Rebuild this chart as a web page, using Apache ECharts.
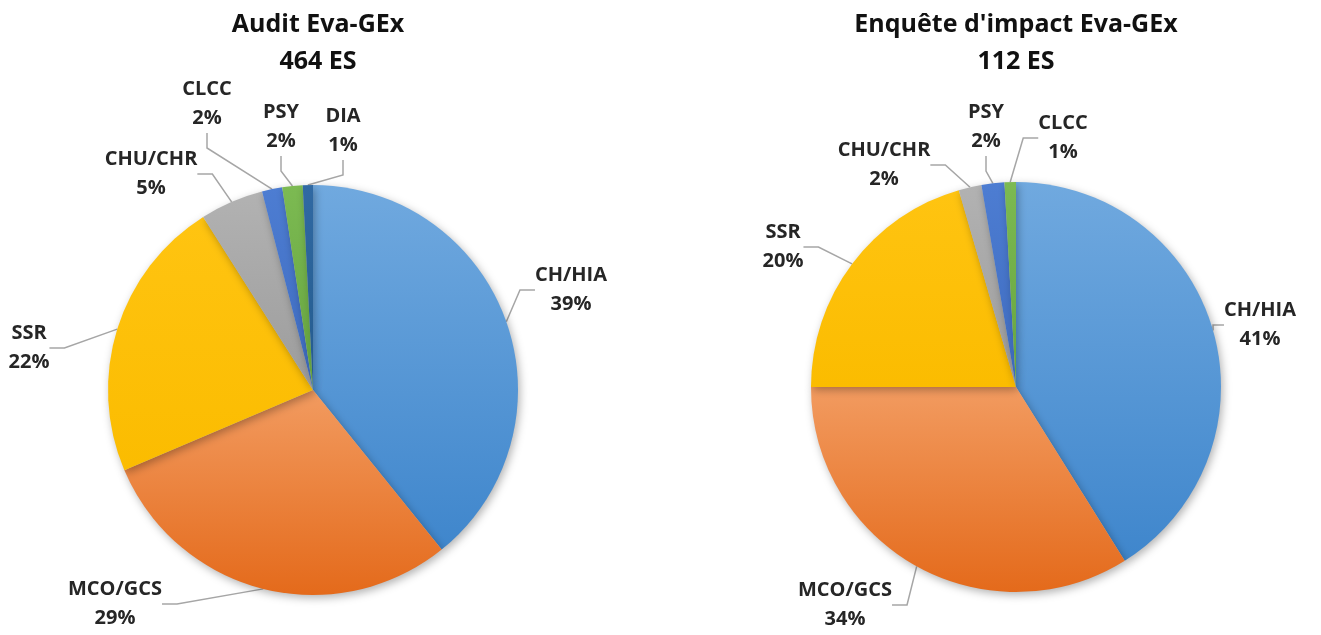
<!DOCTYPE html>
<html>
<head>
    <meta charset="utf-8">
    <title>Eva-GEx</title>
    <script type="text/javascript" src="https://cdn.jsdelivr.net/npm/echarts@6/dist/echarts.min.js"></script>
    <style>
        html, body { margin: 0; padding: 0; background: #fff; }
    </style>
</head>
<body>
    <div id="main" style="width: 1321px;height:635px;"></div>

    <script type="text/javascript">
        // data (shares in %)
        var auditTitle = 'Audit Eva-GEx\n464 ES';
        var auditCats = ['CH/HIA', 'MCO/GCS', 'SSR', 'CHU/CHR', 'CLCC', 'PSY', 'DIA'];
        var auditShare = [39.2, 29.4, 22.4, 5.0, 1.6, 1.6, 0.8];

        var impactTitle = "Enquête d'impact Eva-GEx\n112 ES";
        var impactCats = ['CH/HIA', 'MCO/GCS', 'SSR', 'CHU/CHR', 'PSY', 'CLCC'];
        var impactShare = [41.1, 33.9, 20.5, 1.8, 1.8, 0.9];

        function grad(a, b) {
            return new echarts.graphic.LinearGradient(0, 0, 0, 1, [
                { offset: 0, color: a }, { offset: 1, color: b }
            ]);
        }
        var colorOf = {
            'CH/HIA': grad('#70a9df', '#3f86cc'),
            'MCO/GCS': grad('#f29b60', '#e46a1b'),
            'SSR': grad('#ffc411', '#fbbc00'),
            'CHU/CHR': grad('#b2b2b2', '#9c9c9c'),
            'DIA': grad('#3069a3', '#245b8d')
        };
        var darkBlue = grad('#4d7dd2', '#3e6bbf');
        var green = grad('#7cba52', '#66a43f');

        // label block centres
        var auditLabelPos = [[571, 290], [115, 604], [29, 348], [151, 174], [207, 104], [281, 127], [343, 131]];
        var impactLabelPos = [[1260, 325], [845, 605], [783, 247], [884, 165], [986, 127], [1063, 138]];

        function build(cats, share, colors) {
            return cats.map(function (c, i) {
                return { name: c, value: share[i], itemStyle: { color: colors[i] } };
            });
        }

        var auditColors = auditCats.map(function (c) {
            if (c === 'CLCC') return darkBlue;
            if (c === 'PSY') return green;
            return colorOf[c];
        });
        var impactColors = impactCats.map(function (c) {
            if (c === 'PSY') return darkBlue;
            if (c === 'CLCC') return green;
            return colorOf[c];
        });

        var font = '"Open Sans", "Noto Sans", sans-serif';

        function pieSeries(center, data, pos) {
            return {
                type: 'pie',
                center: center,
                radius: 205,
                startAngle: 90,
                clockwise: true,
                percentPrecision: 0,
                silent: true,
                animation: false,
                data: data,
                itemStyle: {
                    borderWidth: 0,
                    shadowBlur: 8,
                    shadowOffsetX: 2,
                    shadowOffsetY: 3,
                    shadowColor: 'rgba(0,0,0,0.3)'
                },
                label: {
                    show: true,
                    position: 'outside',
                    formatter: '{b}\n{d}%',
                    fontFamily: font,
                    fontWeight: 'bold',
                    fontSize: 20,
                    lineHeight: 29,
                    color: '#262626',
                    align: 'center',
                    overflow: 'none'
                },
                labelLine: {
                    show: true,
                    length: 15,
                    length2: 15,
                    lineStyle: { color: '#a6a6a6', width: 1.5 }
                },
                labelLayout: function (p) {
                    var q = pos[p.dataIndex];
                    return { x: q[0], y: q[1], align: 'center', verticalAlign: 'middle' };
                }
            };
        }

        var myChart = echarts.init(document.getElementById('main'));
        myChart.setOption({
            backgroundColor: '#fff',
            title: [{
                text: auditTitle,
                left: 313,
                top: 1,
                textAlign: 'center',
                textStyle: { fontFamily: font, fontWeight: 'bold', fontSize: 25, lineHeight: 37, color: '#111' }
            }, {
                text: impactTitle,
                left: 1011,
                top: 1,
                textAlign: 'center',
                textStyle: { fontFamily: font, fontWeight: 'bold', fontSize: 25, lineHeight: 37, color: '#111' }
            }],
            series: [
                pieSeries([313, 390], build(auditCats, auditShare, auditColors), auditLabelPos),
                pieSeries([1016, 387], build(impactCats, impactShare, impactColors), impactLabelPos)
            ]
        });
    </script>
</body>
</html>
